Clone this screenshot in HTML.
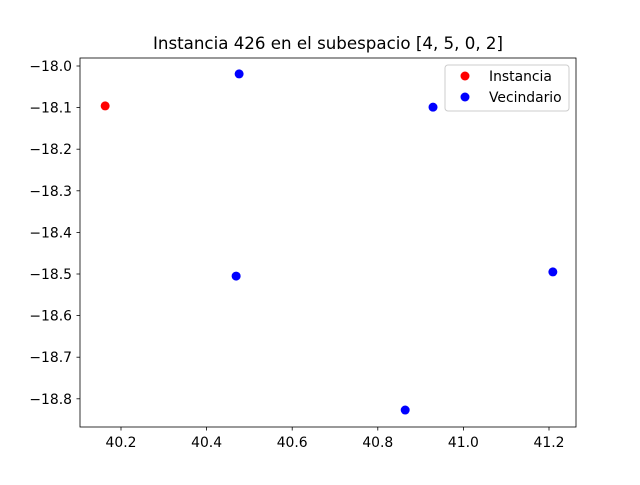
<!DOCTYPE html>
<html><head><meta charset="utf-8"><style>
body{margin:0;background:#fff;font-family:"Liberation Sans","DejaVu Sans",sans-serif;}
svg text{font-family:"DejaVu Sans","Liberation Sans",sans-serif;}
</style></head><body>
<svg id="chart" width="640" height="480">
<rect width="640" height="480" fill="#fff"/>
<text x="328" y="49" font-size="16.67" text-anchor="middle">Instancia 426 en el subespacio [4, 5, 0, 2]</text>
<g id="ticks"></g>
<g id="marks"></g>
<rect x="80" y="58" width="496" height="369" fill="none" stroke="#000" stroke-width="0.8"/>
<g>
<rect x="445" y="65" width="124" height="46" fill="#fff" stroke="#ccc" rx="3"/>
<circle cx="465" cy="76" r="4.5" fill="red"/>
<text x="489" y="81" font-size="13.9">Instancia</text>
<circle cx="465" cy="97" r="4.5" fill="blue"/>
<text x="489" y="102" font-size="13.9">Vecindario</text>
</g>
</svg>
<script>
const xTicks=[40.2,40.4,40.6,40.8,41.0,41.2];
const yTicks=[-18.0,-18.1,-18.2,-18.3,-18.4,-18.5,-18.6,-18.7,-18.8];
const instX=[40.163];
const instY=[-18.096];
const vecX=[40.476,40.929,40.469,41.209,40.864];
const vecY=[-18.019,-18.099,-18.505,-18.495,-18.827];
const xs=v=>121+(v-40.2)*428;
const ys=v=>66+(-18.0-v)*416;
const NS="http://www.w3.org/2000/svg";
const tg=document.getElementById('ticks'),mg=document.getElementById('marks');
function mk(t,a,p){const e=document.createElementNS(NS,t);for(const k in a)e.setAttribute(k,a[k]);p.appendChild(e);return e;}
xTicks.forEach(v=>{const x=xs(v);
const l=mk('line',{x1:x,x2:x,y1:427,y2:430.5,stroke:'#000','stroke-width':0.8},tg);


const t=mk('text',{x:x,y:447,'font-size':13.9,'text-anchor':'middle'},tg);t.textContent=v.toFixed(1);

});
yTicks.forEach(v=>{const y=ys(v);
const l=mk('line',{x1:76.5,x2:80,y1:y,y2:y,stroke:'#000','stroke-width':0.8},tg);


const t=mk('text',{x:72,y:y+5,'font-size':13.9,'text-anchor':'end'},tg);t.textContent='\u2212'+Math.abs(v).toFixed(1);

});
instX.forEach((v,i)=>{const c=mk('circle',{cx:xs(v),cy:ys(instY[i]),r:4.5,fill:'red'},mg);

});
vecX.forEach((v,i)=>{const c=mk('circle',{cx:xs(v),cy:ys(vecY[i]),r:4.5,fill:'blue'},mg);

});
</script>
</body></html>
